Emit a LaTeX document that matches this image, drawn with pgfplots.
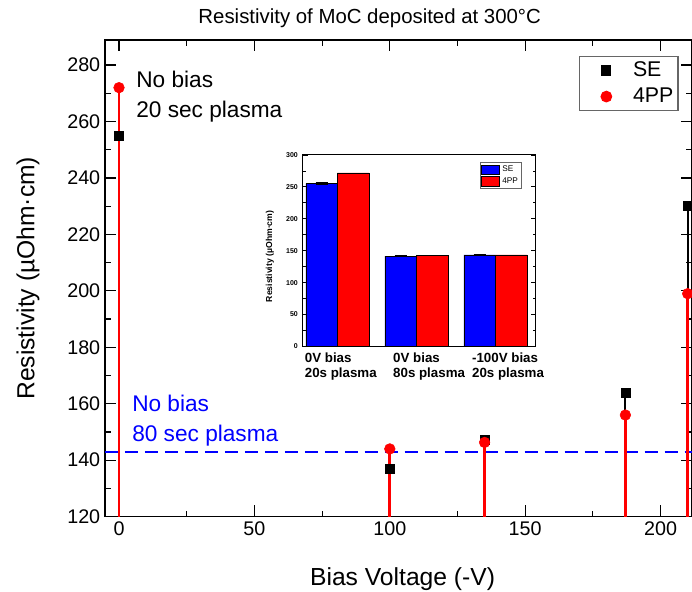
\documentclass[border=0pt]{standalone}
\usepackage{pgfplots}
\pgfplotsset{compat=1.18}
\usepackage{fontspec}
\setmainfont{Liberation Sans}

% bias voltage (-V), SE and 4PP resistivity
\pgfplotstableread{
x   se    fpp
0   255   272
100 137   144
135 147.3 146.3
187 164   156
210 230   199
}\mainres

\begin{document}
\begin{tikzpicture}
\begin{axis}[name=main, at={(0,0)}, anchor=south west, scale only axis,
  width=440.625pt, height=357.75pt,
  xmin=-5.2, xmax=211.6, ymin=120, ymax=288.9,
  xtick={0,50,...,200}, minor xtick={25,75,...,200},
  ytick={120,140,...,280}, minor ytick={130,150,...,270},
  tick pos=both, tick align=inside,
  major tick length=8.5pt, minor tick length=4.5pt,
  every tick/.style={black, line width=0.9pt},
  axis line style={line width=1.2pt},
  /pgf/number format/assume math mode=true,
  ticklabel style={font=\fontsize{14.8}{17}\selectfont},
  title={Resistivity of MoC deposited at 300°C},
  title style={font=\fontsize{15.3}{18}\selectfont, at={(axis description cs:0.451,1)}, anchor=base, yshift=6pt, inner sep=0pt},
  xlabel={Bias Voltage (-V)}, ylabel={Resistivity (µOhm·cm)},
  label style={font=\fontsize{18.5}{22}\selectfont},
  xlabel style={at={(axis description cs:0.507,0)}, anchor=center, yshift=-47.25pt},
  ylabel style={at={(axis description cs:-0.131,0.5)}, anchor=center},
  legend style={at={(0.977,0.966)}, anchor=north east, draw=black!60, line width=0.8pt,
    font=\fontsize{16}{19}\selectfont, cells={anchor=west}, inner xsep=1.5pt, inner ysep=2pt, row sep=3pt},
  legend image code/.code={\path[draw=none, fill=none] (0pt,-3pt) rectangle (37pt,3pt); \draw[#1] plot coordinates {(19pt,0pt)};},
]
\addplot[blue, line width=1.7pt, dash pattern=on 9.75pt off 5.25pt, forget plot] coordinates {(-5.2,143) (211.6,143)};
\addplot[ycomb, black, line width=1.5pt, no marks, forget plot] table[x=x, y=se] {\mainres};
\addplot[ycomb, red, line width=2pt, no marks, forget plot] table[x=x, y=fpp] {\mainres};
\addplot[only marks, mark=square*, mark size=3.4pt, black] table[x=x, y=se] {\mainres};
\addlegendentry{SE}
\addplot[only marks, mark=*, mark size=4pt, red] table[x=x, y=fpp] {\mainres};
\addlegendentry{4PP}
\node[anchor=west, align=left, inner sep=0pt, font=\fontsize{17}{22.5}\selectfont] at (axis cs:6.3,268.8) {No bias\\20 sec plasma};
\node[anchor=west, align=left, inner sep=0pt, text=blue, font=\fontsize{17}{22.5}\selectfont] at (axis cs:4.8,154.05) {No bias\\80 sec plasma};
\end{axis}

\begin{axis}[at={(148.3pt,127.7pt)}, anchor=south west, scale only axis,
  width=175pt, height=143.8pt,
  axis background/.style={fill=white},
  ybar=0pt, bar width=0.4,
  xmin=-0.443, xmax=2.51, ymin=0, ymax=300,
  xtick={0,1,2},
  xticklabels={{\hspace*{-7pt}0V bias\\\hspace*{-7pt}20s plasma},{0V bias\\80s plasma},{-100V bias\\20s plasma}},
  xticklabel style={align=left, anchor=north west, xshift=-21pt, yshift=-1pt,
    font=\bfseries\fontsize{10}{11.25}\selectfont},
  xtick style={draw=none},
  ytick={0,50,...,300}, minor ytick={25,75,...,275},
  ytick pos=both, yticklabel pos=left, tick align=inside,
  major tick length=3.75pt, minor tick length=2.25pt,
  every tick/.style={black, line width=0.5pt},
  axis line style={line width=0.7pt},
  /pgf/number format/assume math mode=true,
  yticklabel style={font=\bfseries\fontsize{5.25}{6}\selectfont},
  ylabel={Resistivity (µOhm·cm)},
  ylabel style={font=\bfseries\fontsize{6.5}{7}\selectfont, at={(axis description cs:-0.14,0.47)}, anchor=center},
  legend style={at={(0.939,0.962)}, anchor=north east, font=\fontsize{6.2}{7}\selectfont,
    draw=black!60, line width=0.4pt, inner xsep=0.5pt, inner ysep=0.5pt, row sep=-1pt, cells={anchor=west}},
  legend image code/.code={\draw[#1,/tikz/.cd, draw=black, line width=0.3pt] (0pt,-3.6pt) rectangle (14pt,3.6pt);},
]
\addplot[fill=blue, draw=black, line width=0.4pt,
  error bars/.cd, y dir=both, y explicit, error bar style={black, line width=0.8pt},
  error mark options={rotate=90, black, mark size=4.5pt, line width=1.2pt}]
  coordinates {(0,255) +- (0,0.8) (1,141.5) +- (0,0.3) (2,143.5) +- (0,0.2)};
\addlegendentry{SE}
\addplot[fill=red, draw=black, line width=0.4pt] coordinates {(0,272) (1,142.5) (2,143.5)};
\addlegendentry{4PP}
\end{axis}

\pgfresetboundingbox
\useasboundingbox ([shift={(-78.75pt,-56.25pt)}]main.south west) rectangle ([shift={(0pt,30pt)}]main.north east);
\end{tikzpicture}
\end{document}
